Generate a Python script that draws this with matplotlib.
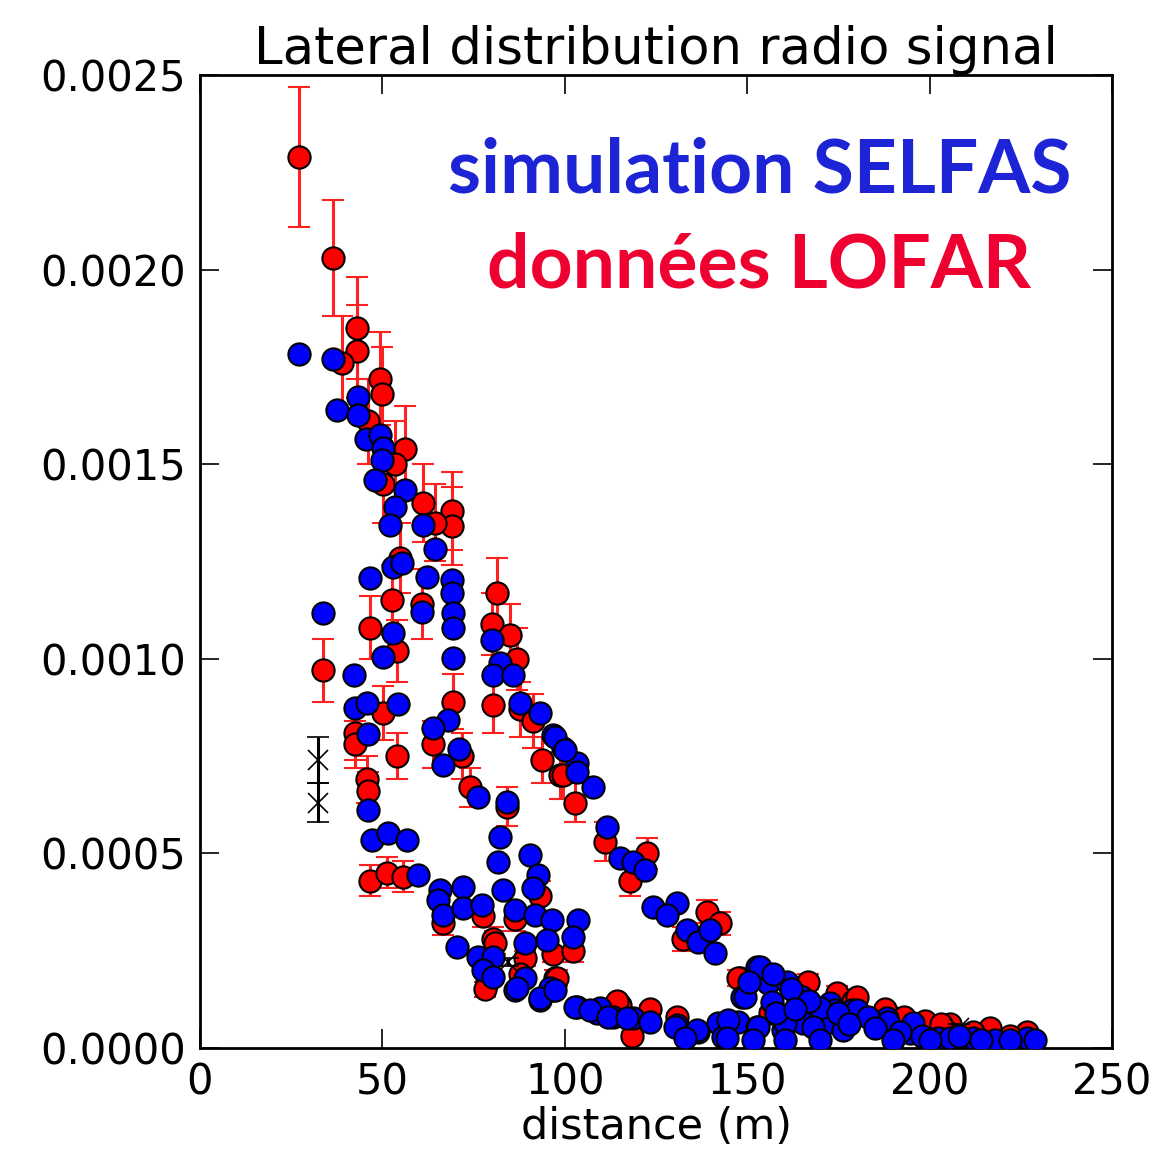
import numpy as np
import matplotlib
matplotlib.use('Agg')
import matplotlib.pyplot as plt

# LOFAR data (distance in m, signal, error)
red_x = [27.1, 36.5, 43.0, 43.0, 38.9, 49.3, 49.9, 46.1, 56.2, 53.5,
         50.2, 61.1, 69.1, 69.1, 64.4, 54.8, 52.6, 46.6, 54.0, 60.9,
         33.7, 50.2, 42.5, 42.5, 54.0, 45.8, 46.1, 69.4, 63.9, 71.8,
         74.0, 84.2, 81.4, 80.0, 80.3, 85.0, 86.9, 87.7, 93.8, 98.7,
         102.8, 91.3, 46.6, 51.3, 55.6, 80.3, 78.7, 89.1, 96.8, 102.2,
         97.3, 86.3, 93.2, 66.6, 77.6, 99.5, 111.0, 122.5, 117.9, 139.0,
         142.5, 132.4, 148.0, 166.7, 174.6, 179.0, 188.3, 198.7, 97.9, 115.1,
         123.4, 130.8, 180.1, 205.6, 216.6, 226.7, 80.9, 78.1, 87.7, 114.3,
         118.4, 147.5, 156.3, 187.8, 193.0, 203.0, 212.0, 222.0]
red_y = [0.00229, 0.00203, 0.00185, 0.00179, 0.00176, 0.00172, 0.00168, 0.00161, 0.00154, 0.00150,
         0.00145, 0.00140, 0.00138, 0.00134, 0.00135, 0.00126, 0.00115, 0.00108, 0.00102, 0.00114,
         0.00097, 0.00086, 0.00081, 0.00078, 0.00075, 0.00069, 0.00066, 0.00089, 0.00078, 0.00075,
         0.00067, 0.00062, 0.00117, 0.00109, 0.00088, 0.00106, 0.00100, 0.00087, 0.00074, 0.00070,
         0.00063, 0.00084, 0.00043, 0.00045, 0.00044, 0.00028, 0.00017, 0.00023, 0.00024, 0.00025,
         0.00018, 0.00033, 0.00039, 0.00032, 0.00034, 0.00070, 0.00053, 0.00050, 0.00043, 0.00035,
         0.00032, 0.00028, 0.00018, 0.00017, 0.00014, 0.00012, 0.00009, 0.00007, 0.00018, 0.00011,
         0.00010, 0.00008, 0.00013, 0.00006, 0.00005, 0.00004, 0.00027, 0.00015, 0.00019, 0.00012,
         0.00003, 0.00018, 0.00009, 0.00010, 0.00008, 0.00006, 0.00004, 0.00003]
red_err = [0.00018, 0.00015, 0.00013, 0.00012, 0.00012, 0.00012, 0.00012, 0.00011, 0.00011, 0.00011,
           0.00010, 0.00010, 0.00010, 0.00010, 0.00010, 0.00009, 0.00009, 0.00008, 0.00008, 0.00009,
           0.00008, 0.00007, 0.00007, 0.00006, 0.00006, 0.00006, 0.00005, 0.00007, 0.00006, 0.00006,
           0.00005, 0.00005, 0.00009, 0.00008, 0.00007, 0.00008, 0.00008, 0.00007, 0.00006, 0.00006,
           0.00005, 0.00007, 0.00004, 0.00004, 0.00004, 0.00003, 0.00002, 0.00002, 0.00002, 0.00003,
           0.00002, 0.00003, 0.00004, 0.00003, 0.00003, 0.00006, 0.00005, 0.00004, 0.00004, 0.00003,
           0.00003, 0.00003, 0.00002, 0.00002, 0.00002, 0.00001, 0.00001, 0.00001, 0.00002, 0.00001,
           0.00001, 0.00001, 0.00001, 0.00001, 0.00001, 0.00001, 0.00003, 0.00002, 0.00002, 0.00001,
           0.00001, 0.00002, 0.00001, 0.00001, 0.00001, 0.00001, 0.00001, 0.00001]

# SELFAS simulation
blue_x = [27.1, 36.5, 37.6, 43.3, 43.3, 45.5, 49.3, 50.2, 49.9, 48.0,
          56.2, 53.5, 52.1, 61.1, 64.4, 52.9, 55.4, 46.6, 62.2, 60.9,
          69.1, 69.1, 69.4, 69.4, 69.4, 33.7, 52.9, 50.2, 42.2, 42.5,
          45.8, 54.3, 46.1, 46.1, 68.0, 63.9, 66.6, 71.0, 76.2, 84.2,
          80.0, 82.2, 80.3, 85.8, 87.7, 93.2, 96.8, 99.5, 103.3, 107.7,
          47.1, 51.5, 56.7, 82.2, 59.8, 65.8, 65.2, 66.6, 72.1, 72.1,
          77.3, 70.4, 76.2, 80.3, 77.6, 80.3, 81.7, 83.1, 86.3, 90.5,
          92.7, 91.3, 91.8, 96.5, 95.1, 103.6, 102.2, 89.1, 89.1, 86.3,
          96.8, 93.2, 103.3, 108.8, 97.3, 100.1, 103.3, 111.6, 115.1, 118.7,
          122.0, 124.2, 130.8, 128.0, 133.5, 136.5, 139.8, 141.2, 152.7, 155.7,
          160.9, 163.7, 148.6, 172.7, 174.1, 178.7, 188.3, 194.6, 202.3, 95.9,
          102.8, 109.6, 113.2, 118.7, 123.4, 130.8, 136.5, 142.0, 143.4, 147.5,
          152.7, 159.8, 165.3, 170.8, 176.3, 180.1, 188.6, 211.9, 217.9, 226.7,
          205.6, 153.5, 149.4, 170.0, 144.7, 153.0, 160.4, 168.0, 195.5, 160.4,
          170.0, 151.6, 156.8, 165.0, 86.9, 106.9, 111.8, 117.0, 130.2, 136.2,
          133.0, 144.5, 93.2, 97.3,
          150.5, 157.0, 162.0, 167.0, 175.0, 183.0, 185.0, 192.0, 198.0, 208.0,
          214.0, 222.0, 229.0, 158.0, 163.0, 178.0, 190.0, 200.0]
blue_y = [0.001783, 0.00177, 0.001639, 0.001673, 0.001626, 0.001565, 0.001575, 0.001542, 0.001511, 0.001459,
          0.001434, 0.00139, 0.001344, 0.001344, 0.001282, 0.001236, 0.001246, 0.001208, 0.00121, 0.00112,
          0.001202, 0.001169, 0.001118, 0.001079, 0.001002, 0.001118, 0.001066, 0.001005, 0.000958, 0.000874,
          0.000886, 0.000884, 0.000807, 0.000612, 0.000843, 0.000822, 0.000727, 0.000768, 0.000645, 0.000632,
          0.001048, 0.000989, 0.000958, 0.000958, 0.000886, 0.000861, 0.000804, 0.000771, 0.000732, 0.000671,
          0.000534, 0.000552, 0.000534, 0.000542, 0.000444, 0.000406, 0.00038, 0.000342, 0.000414, 0.00036,
          0.000367, 0.00026, 0.000234, 0.000234, 0.0002, 0.000182, 0.000478, 0.000406, 0.000355, 0.000496,
          0.000444, 0.000411, 0.000342, 0.000329, 0.000277, 0.000329, 0.000285, 0.00027, 0.00018, 0.000149,
          0.000149, 0.000123, 0.000105, 0.00009, 0.000799, 0.000766, 0.000709, 0.000568, 0.000488, 0.000478,
          0.000457, 0.000362, 0.000373, 0.000342, 0.000303, 0.000272, 0.000303, 0.000244, 0.000208, 0.000167,
          0.00017, 0.000136, 0.000131, 0.000116, 0.000098, 0.000098, 0.000077, 0.000039, 0.000026, 0.000154,
          0.000105, 0.000103, 0.00008, 0.000077, 0.000067, 0.000059, 0.000041, 0.000064, 0.000028, 0.000067,
          0.000054, 0.000046, 0.000064, 0.000059, 0.000046, 0.000098, 0.000067, 0.000026, 0.000021, 0.000026,
          0.000026, 0.000208, 0.000131, 0.000103, 0.000072, 0.000054, 0.000064, 0.000054, 0.000064, 0.00002,
          0.00002, 0.00002, 0.000118, 0.000131, 0.000154, 0.000098, 0.00008, 0.000077, 0.000054, 0.000046,
          0.000026, 0.000026, 0.000128, 0.000149,
          0.00017, 0.00019, 0.00015, 0.00012, 0.00009, 0.00008, 0.00005, 0.00004, 0.00003, 0.00003,
          0.00002, 0.00002, 0.00002, 0.00009, 0.0001, 0.00006, 0.00002, 0.00002]

# flagged points (black crosses)
flag_x = [32.3, 32.3, 84.5, 208.0]
flag_y = [0.00074, 0.00063, 0.00022, 0.00005]
flag_err = [0.00006, 0.00005, 0.00001, 0.00001]

plt.rcParams['font.family'] = 'DejaVu Sans'

fig = plt.figure(figsize=(11.56, 11.54), dpi=100)
ax = fig.add_axes([0.173, 0.092, 0.789, 0.843])

ax.errorbar(red_x, red_y, yerr=red_err, fmt='o', color='red', ecolor='#ff2020',
            mfc='red', mec='black', mew=1.5, ms=16, elinewidth=2.2,
            capsize=8, capthick=2.2, zorder=2)
ax.errorbar(flag_x, flag_y, yerr=flag_err, fmt='x', color='black',
            ms=14, mew=1.2, elinewidth=2.2, capsize=8, capthick=2.2, zorder=3)
ax.plot(blue_x, blue_y, 'o', mfc='blue', mec='black', mew=1.5, ms=16, zorder=4)

ax.set_xlim(0, 250)
ax.set_ylim(0, 0.0025)
ax.set_xticks([0, 50, 100, 150, 200, 250])
ax.set_yticks([0, 0.0005, 0.001, 0.0015, 0.002, 0.0025])
ax.set_yticklabels(['0.0000', '0.0005', '0.0010', '0.0015', '0.0020', '0.0025'])
ax.tick_params(direction='in', length=14, width=1.2, top=True, right=True,
               labelsize=30, pad=10)
for s in ax.spines.values():
    s.set_linewidth(2)

ax.set_title('Lateral distribution radio signal', fontsize=37, pad=8)
ax.set_xlabel('distance (m)', fontsize=31, labelpad=2)

fig.text(0.657, 0.833, 'simulation SELFAS', color='#1c24d6', fontsize=54,
         fontweight='bold', family='Lato', ha='center', va='baseline')
fig.text(0.657, 0.751, 'données LOFAR', color='#ee0030', fontsize=54,
         fontweight='bold', family='Lato', ha='center', va='baseline')

fig.savefig('out.png', dpi=100)
